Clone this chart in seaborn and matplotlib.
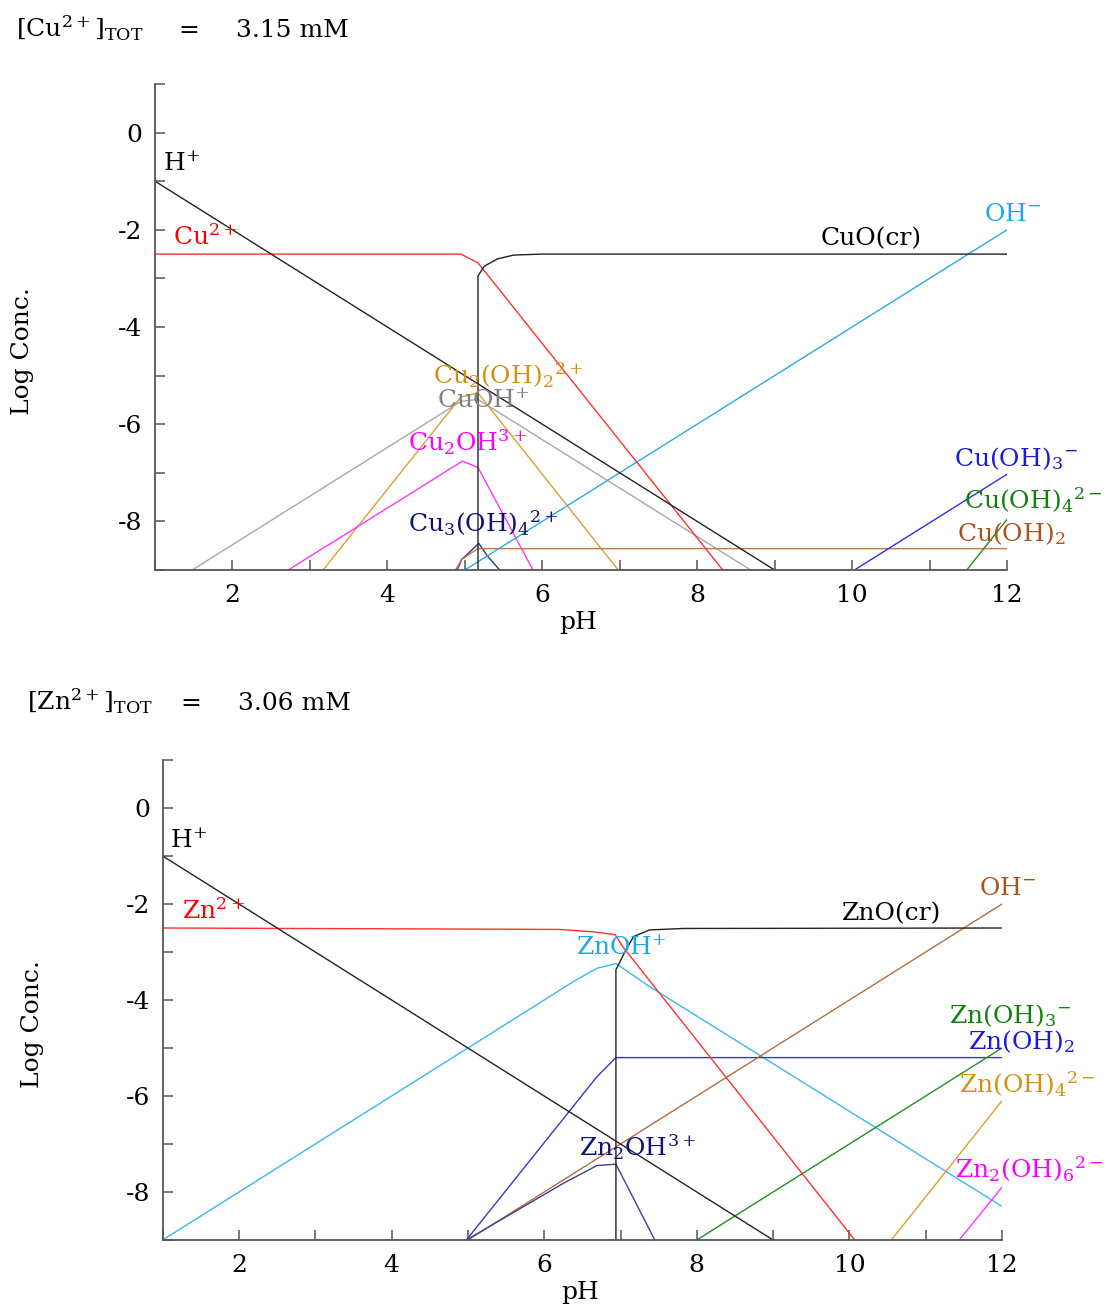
import matplotlib
matplotlib.use("Agg")
import matplotlib.pyplot as plt
from matplotlib.ticker import MultipleLocator
import seaborn as sns

# ---------------- Cu(II) speciation (log concentration vs pH) ----------------
cu_h_ph, cu_h_log = [1, 9], [-1, -9]
cu_oh_ph, cu_oh_log = [5, 12], [-9, -2]
cu2_ph = [1, 4.95, 5.17, 8.33]
cu2_log = [-2.5, -2.5, -2.68, -9]
cuo_ph = [5.17, 5.17, 5.25, 5.42, 5.63, 6.0, 12]
cuo_log = [-9, -2.95, -2.75, -2.6, -2.52, -2.5, -2.5]
cuoh_ph = [1.48, 4.95, 5.17, 8.69]
cuoh_log = [-9, -5.53, -5.49, -9]
cu2oh2_ph = [3.17, 4.95, 5.17, 6.98]
cu2oh2_log = [-9, -5.44, -5.36, -9]
cu2oh_ph = [2.72, 4.97, 5.17, 5.88]
cu2oh_log = [-9, -6.76, -6.89, -9]
cu3oh4_ph = [4.90, 4.96, 5.05, 5.18, 5.29, 5.45]
cu3oh4_log = [-9, -8.78, -8.65, -8.45, -8.71, -9]
cuoh2_ph = [4.88, 4.96, 5.17, 12]
cuoh2_log = [-9, -8.78, -8.56, -8.56]
cuoh3_ph, cuoh3_log = [10.03, 12], [-9, -7.03]
cuoh4_ph, cuoh4_log = [11.48, 12], [-9, -7.96]

# ---------------- Zn(II) speciation ----------------
zn_h_ph, zn_h_log = [1, 9], [-1, -9]
zn_oh_ph, zn_oh_log = [5, 12], [-9, -2]
zn2_ph = [1, 4.6, 6.2, 6.65, 6.93, 7.03, 10.07]
zn2_log = [-2.5, -2.52, -2.53, -2.58, -2.64, -2.89, -9]
zno_ph = [6.94, 6.94, 7.06, 7.17, 7.38, 7.82, 12]
zno_log = [-9, -3.37, -2.99, -2.68, -2.54, -2.51, -2.5]
znoh_ph = [1, 6.0, 6.4, 6.69, 6.94, 7.38, 12]
znoh_log = [-9, -4.0, -3.6, -3.34, -3.24, -3.72, -8.3]
znoh2_ph = [4.98, 6.69, 6.94, 12]
znoh2_log = [-9, -5.6, -5.2, -5.2]
zn2oh_ph = [4.98, 6.25, 6.69, 6.94, 7.45]
zn2oh_log = [-9, -7.82, -7.45, -7.42, -9]
znoh3_ph, znoh3_log = [8, 12], [-9, -5.0]
znoh4_ph, znoh4_log = [10.55, 12], [-9, -6.1]
zn2oh6_ph, zn2oh6_log = [11.44, 12], [-9, -7.9]

cu_total = "3.15 mM"
zn_total = "3.06 mM"

sns.set_theme(style="ticks")
plt.rcParams["font.family"] = ["DejaVu Serif"]
plt.rcParams["mathtext.fontset"] = "dejavuserif"
plt.rcParams["axes.unicode_minus"] = False
plt.rcParams["text.color"] = "black"

W, H = 1111, 1305
fig = plt.figure(figsize=(W / 100, H / 100), dpi=100)


def fx(x):
    return x / W


def fy(y):
    return 1 - y / H


ax1 = fig.add_axes([fx(155), fy(570), (1007 - 155) / W, (570 - 84) / H])
ax2 = fig.add_axes([fx(162.7), fy(1240), (1002 - 162.7) / W, (1240 - 760) / H])

FS = 18
BLACK = "#222222"


def species(ax, ph, logc, color):
    sns.lineplot(x=ph, y=logc, ax=ax, color=color, lw=1.0,
                 estimator=None, sort=False, legend=False)


def style_axes(ax):
    ax.set_xlim(1, 12)
    ax.set_ylim(-9, 1)
    for s in ("top", "right"):
        ax.spines[s].set_visible(False)
    for s in ("left", "bottom"):
        ax.spines[s].set_color("#555555")
        ax.spines[s].set_linewidth(1.3)
    ax.set_xticks(range(2, 13, 2))
    ax.set_yticks(range(-8, 1, 2))
    ax.xaxis.set_minor_locator(MultipleLocator(1))
    ax.yaxis.set_minor_locator(MultipleLocator(1))
    ax.tick_params(which="both", direction="in", length=7, width=1.1,
                   color="#555555", labelsize=FS, labelcolor="black")
    ax.tick_params(axis="x", which="both", pad=10)
    ax.tick_params(axis="y", which="both", pad=9)
    ax.set_xlabel("")
    ax.set_ylabel("")
    ax.set_facecolor("white")


# ---- Cu panel ----
species(ax1, cuoh_ph, cuoh_log, "#a8a8a8")
species(ax1, cu2oh2_ph, cu2oh2_log, "#d9a030")
species(ax1, cu2oh_ph, cu2oh_log, "#ff33ff")
species(ax1, cu3oh4_ph, cu3oh4_log, "#303090")
species(ax1, cuoh2_ph, cuoh2_log, "#c07840")
species(ax1, cuoh3_ph, cuoh3_log, "#3030e0")
species(ax1, cuoh4_ph, cuoh4_log, "#209020")
species(ax1, cu_oh_ph, cu_oh_log, "#29abe2")
species(ax1, cu2_ph, cu2_log, "#ff3030")
species(ax1, cu_h_ph, cu_h_log, BLACK)
species(ax1, cuo_ph, cuo_log, BLACK)
style_axes(ax1)

cu_labels = [
    (1.10, -0.80, r"H$^{+}$", "black"),
    (1.23, -2.32, r"Cu$^{2+}$", "#ff0000"),
    (9.59, -2.32, "CuO(cr)", "black"),
    (11.70, -1.81, r"OH$^{-}$", "#1aa8f0"),
    (4.59, -5.18, r"Cu$_2$(OH)$_2{}^{2+}$", "#d4920f"),
    (4.64, -5.67, r"CuOH$^{+}$", "#808080"),
    (4.26, -6.55, r"Cu$_2$OH$^{3+}$", "#ff00ff"),
    (4.27, -8.23, r"Cu$_3$(OH)$_4{}^{2+}$", "#10107a"),
    (11.31, -6.86, r"Cu(OH)$_3{}^{-}$", "#1a1adf"),
    (11.44, -7.75, r"Cu(OH)$_4{}^{2-}$", "#108010"),
    (11.36, -8.41, r"Cu(OH)$_2$", "#a8541a"),
]
for x, y, s, c in cu_labels:
    ax1.text(x, y, s, color=c, fontsize=FS, ha="left", va="baseline",
             clip_on=False)

# ---- Zn panel ----
species(ax2, znoh_ph, znoh_log, "#3bb8ee")
species(ax2, znoh2_ph, znoh2_log, "#3535d5")
species(ax2, zn_oh_ph, zn_oh_log, "#b07040")
species(ax2, zn2oh_ph, zn2oh_log, "#404090")
species(ax2, znoh3_ph, znoh3_log, "#209020")
species(ax2, znoh4_ph, znoh4_log, "#d9a030")
species(ax2, zn2oh6_ph, zn2oh6_log, "#ff33ff")
species(ax2, zn2_ph, zn2_log, "#ff3030")
species(ax2, zn_h_ph, zn_h_log, BLACK)
species(ax2, zno_ph, zno_log, BLACK)
style_axes(ax2)

zn_labels = [
    (1.10, -0.84, r"H$^{+}$", "black"),
    (1.25, -2.32, r"Zn$^{2+}$", "#ff0000"),
    (9.90, -2.33, "ZnO(cr)", "black"),
    (11.70, -1.81, r"OH$^{-}$", "#a8541a"),
    (6.42, -3.06, r"ZnOH$^{+}$", "#1aa8f0"),
    (6.46, -7.26, r"Zn$_2$OH$^{3+}$", "#10107a"),
    (11.31, -4.49, r"Zn(OH)$_3{}^{-}$", "#108010"),
    (11.56, -5.03, r"Zn(OH)$_2$", "#1a1adf"),
    (11.44, -5.94, r"Zn(OH)$_4{}^{2-}$", "#d4920f"),
    (11.38, -7.71, r"Zn$_2$(OH)$_6{}^{2-}$", "#ff00ff"),
]
for x, y, s, c in zn_labels:
    ax2.text(x, y, s, color=c, fontsize=FS, ha="left", va="baseline",
             clip_on=False)

# ---- headers and axis titles ----
fig.text(fx(16), fy(37), r"[Cu$^{2+}$]$_{\mathrm{TOT}}$", fontsize=FS,
         ha="left", va="baseline")
fig.text(fx(178), fy(37), "=", fontsize=FS, ha="left", va="baseline")
fig.text(fx(236), fy(37), cu_total, fontsize=FS, ha="left", va="baseline")
fig.text(fx(27), fy(710), r"[Zn$^{2+}$]$_{\mathrm{TOT}}$", fontsize=FS,
         ha="left", va="baseline")
fig.text(fx(180), fy(710), "=", fontsize=FS, ha="left", va="baseline")
fig.text(fx(238), fy(710), zn_total, fontsize=FS, ha="left", va="baseline")

fig.text(fx(578), fy(623), "pH", fontsize=FS, ha="center", va="center")
fig.text(fx(580), fy(1292), "pH", fontsize=FS, ha="center", va="center")
fig.text(fx(22), fy(351), "Log Conc.", fontsize=FS, rotation=90,
         ha="center", va="center")
fig.text(fx(32), fy(1024), "Log Conc.", fontsize=FS, rotation=90,
         ha="center", va="center")

fig.savefig("out.png", dpi=100, facecolor="white")
